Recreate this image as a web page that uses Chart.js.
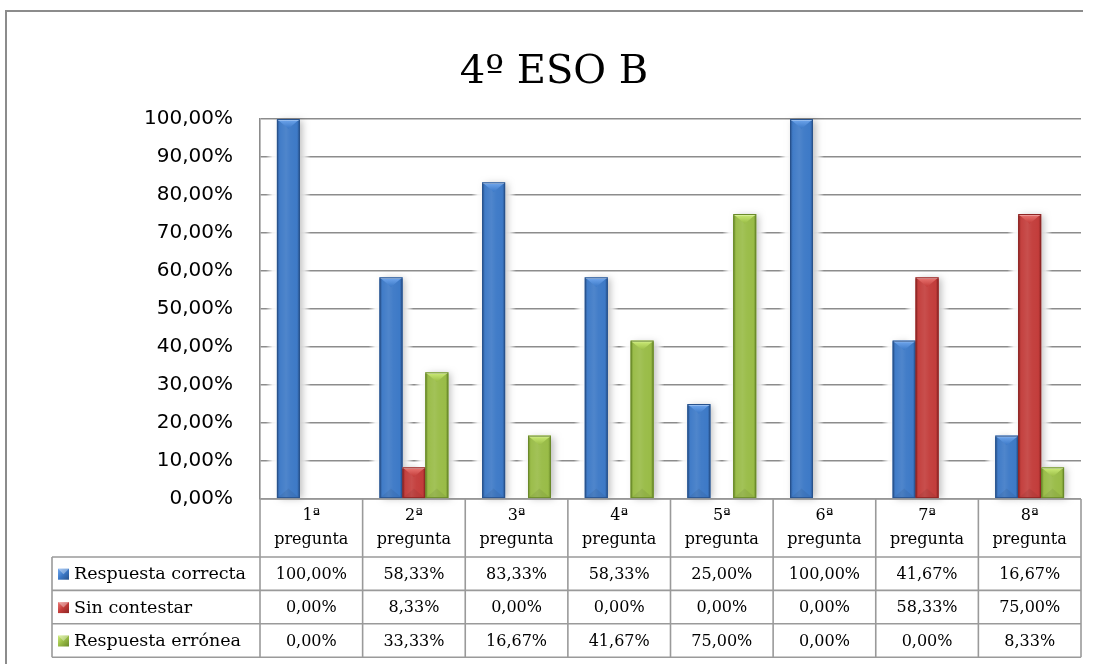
<!DOCTYPE html>
<html>
<head>
<meta charset="utf-8">
<script src="https://cdn.jsdelivr.net/npm/chart.js@4.4.0/dist/chart.umd.min.js"></script>
<style>
  html, body { margin: 0; padding: 0; background: #ffffff; }
  #wrap { width: 1097px; height: 664px; position: relative; }
</style>
</head>
<body>
<div id="wrap"><canvas id="c" width="1097" height="664"></canvas></div>
<script>
// Results per question, in percent
const chartTitle = '4º ESO B';
const categories = ['1ª pregunta', '2ª pregunta', '3ª pregunta', '4ª pregunta',
                    '5ª pregunta', '6ª pregunta', '7ª pregunta', '8ª pregunta'];
const seriesNames = ['Respuesta correcta', 'Sin contestar', 'Respuesta errónea'];
const respuestaCorrecta = [100, 58.33, 83.33, 58.33, 25, 100, 41.67, 16.67];
const sinContestar      = [0, 8.33, 0, 0, 0, 0, 58.33, 75];
const respuestaErronea  = [0, 33.33, 16.67, 41.67, 75, 0, 0, 8.33];

// Shading for each series: dark edge, body, light highlight
const palette = [
  { dark: '#28528c', mid: '#3b78c6', light: '#74aaf0' },
  { dark: '#8e2524', mid: '#c23b39', light: '#ec7a76' },
  { dark: '#6a8a2a', mid: '#98bb45', light: '#cfee7a' }
];

const fmtPct = v => v.toFixed(2).replace('.', ',') + '%';

const serifFont = '"DejaVu Serif", Georgia, serif';
const sansFont = '"DejaVu Sans", Verdana, sans-serif';
const lineGray = '#9a9a9a';

// Outer frame and title
const framePlugin = {
  id: 'frame',
  beforeDraw(chart) {
    const ctx = chart.ctx;
    ctx.save();
    ctx.fillStyle = '#ffffff';
    ctx.fillRect(0, 0, chart.width, chart.height);
    ctx.strokeStyle = '#8c8c8c';
    ctx.lineWidth = 2;
    ctx.beginPath();
    ctx.moveTo(6, chart.height);
    ctx.lineTo(6, 11);
    ctx.lineTo(chart.chartArea.right + 2, 11);
    ctx.stroke();
    ctx.fillStyle = '#000000';
    ctx.font = '40px ' + serifFont;
    ctx.textAlign = 'center';
    ctx.textBaseline = 'alphabetic';
    ctx.fillText(chartTitle, 554, 83);
    ctx.restore();
  }
};

function barGeom(el) {
  const p = el.getProps(['x', 'y', 'base', 'width'], true);
  return { x0: p.x - p.width / 2, x1: p.x + p.width / 2, top: Math.min(p.y, p.base), bottom: Math.max(p.y, p.base), w: p.width };
}

// Soft halo behind the bars, then bevelled shading on top of them
const bevelPlugin = {
  id: 'bevel',
  beforeDatasetsDraw(chart) {
    const ctx = chart.ctx;
    ctx.save();
    chart.data.datasets.forEach((ds, di) => {
      chart.getDatasetMeta(di).data.forEach((el, i) => {
        if (!ds.data[i]) return;
        const g = barGeom(el);
        const pad = 11;
        const halo = ctx.createLinearGradient(g.x0 - pad, 0, g.x1 + pad, 0);
        const f = pad / (g.w + 2 * pad);
        halo.addColorStop(0, 'rgba(255,255,255,0)');
        halo.addColorStop(f * 0.6, 'rgba(255,255,255,0.9)');
        halo.addColorStop(f, 'rgba(255,255,255,1)');
        halo.addColorStop(1 - f, 'rgba(255,255,255,1)');
        halo.addColorStop(1 - f * 0.6, 'rgba(255,255,255,0.9)');
        halo.addColorStop(1, 'rgba(255,255,255,0)');
        ctx.fillStyle = halo;
        ctx.fillRect(g.x0 - pad, g.top + 2, g.w + 2 * pad, g.bottom - g.top - 3);
        ctx.shadowColor = 'rgba(0,0,0,0.25)';
        ctx.shadowBlur = 7;
        ctx.shadowOffsetX = 3;
        ctx.shadowOffsetY = 1;
        ctx.fillStyle = '#ffffff';
        ctx.fillRect(g.x0, g.top, g.w, g.bottom - g.top);
        ctx.shadowColor = 'transparent';
      });
    });
    ctx.restore();
  },
  afterDatasetsDraw(chart) {
    const ctx = chart.ctx;
    ctx.save();
    chart.data.datasets.forEach((ds, di) => {
      const c = palette[di];
      chart.getDatasetMeta(di).data.forEach((el, i) => {
        if (!ds.data[i]) return;
        const g = barGeom(el);
        const h = g.bottom - g.top;
        // body: darker edges, lighter centre
        const grad = ctx.createLinearGradient(g.x0, 0, g.x1, 0);
        grad.addColorStop(0, c.dark);
        grad.addColorStop(0.12, c.mid);
        grad.addColorStop(0.88, c.mid);
        grad.addColorStop(1, c.dark);
        ctx.fillStyle = grad;
        ctx.fillRect(g.x0, g.top, g.w, h);
        // lighter sheen down the middle
        const sheen = ctx.createLinearGradient(g.x0, 0, g.x1, 0);
        sheen.addColorStop(0, 'rgba(255,255,255,0)');
        sheen.addColorStop(0.4, 'rgba(255,255,255,0.10)');
        sheen.addColorStop(0.6, 'rgba(255,255,255,0.04)');
        sheen.addColorStop(1, 'rgba(255,255,255,0)');
        ctx.fillStyle = sheen;
        ctx.fillRect(g.x0, g.top, g.w, h);
        // top bevel: light band with a downward wedge
        const bh = Math.min(g.w * 0.42, h / 2);
        const tg = ctx.createLinearGradient(0, g.top, 0, g.top + bh);
        tg.addColorStop(0, c.light);
        tg.addColorStop(1, c.mid);
        ctx.fillStyle = tg;
        ctx.beginPath();
        ctx.moveTo(g.x0, g.top);
        ctx.lineTo(g.x1, g.top);
        ctx.lineTo(g.x1 - g.w / 2, g.top + bh);
        ctx.closePath();
        ctx.fill();
        ctx.fillStyle = 'rgba(255,255,255,0.55)';
        ctx.fillRect(g.x0, g.top, g.w, 1.5);
        // bottom bevel: faint upward wedge
        ctx.fillStyle = 'rgba(0,0,0,0.06)';
        ctx.beginPath();
        ctx.moveTo(g.x0, g.bottom);
        ctx.lineTo(g.x1, g.bottom);
        ctx.lineTo(g.x1 - g.w / 2, g.bottom - bh);
        ctx.closePath();
        ctx.fill();
        // thin dark outline on the sides
        ctx.strokeStyle = c.dark;
        ctx.lineWidth = 1;
        ctx.strokeRect(g.x0 + 0.5, g.top + 0.5, g.w - 1, h - 1);
      });
    });
    ctx.restore();
  }
};

// Data table under the plot, with legend keys in the first column
const tablePlugin = {
  id: 'dataTable',
  afterDraw(chart) {
    const ctx = chart.ctx;
    const xs = chart.scales.x;
    const area = chart.chartArea;
    const n = categories.length;
    const colW = (xs.right - xs.left) / n;
    const top = area.bottom;
    const headH = 58;
    const rowH = 33.4;
    const tableLeft = 52;
    const seriesData = chart.data.datasets.map(d => d.data);
    ctx.save();
    ctx.strokeStyle = lineGray;
    ctx.lineWidth = 1.6;
    // column verticals
    for (let i = 0; i <= n; i++) {
      const x = xs.left + i * colW;
      ctx.beginPath();
      ctx.moveTo(x, top);
      ctx.lineTo(x, top + headH + rowH * seriesData.length);
      ctx.stroke();
    }
    // left edge of the legend column
    ctx.beginPath();
    ctx.moveTo(tableLeft, top + headH);
    ctx.lineTo(tableLeft, top + headH + rowH * seriesData.length);
    ctx.stroke();
    // horizontals
    ctx.beginPath();
    ctx.moveTo(xs.left, top);
    ctx.lineTo(xs.right, top);
    ctx.stroke();
    for (let r = 0; r <= seriesData.length; r++) {
      const y = top + headH + r * rowH;
      ctx.beginPath();
      ctx.moveTo(tableLeft, y);
      ctx.lineTo(xs.right, y);
      ctx.stroke();
    }
    // header text
    ctx.fillStyle = '#000000';
    ctx.font = '16px ' + serifFont;
    ctx.textAlign = 'center';
    ctx.textBaseline = 'middle';
    categories.forEach((cat, i) => {
      const cx = xs.getPixelForValue(i);
      const parts = cat.split(' ');
      ctx.fillText(parts[0], cx, top + 17);
      ctx.fillText(parts.slice(1).join(' '), cx, top + 41);
    });
    // value rows
    seriesData.forEach((vals, r) => {
      const cy = top + headH + r * rowH + rowH / 2 + 1;
      ctx.font = '16px ' + serifFont;
      vals.forEach((v, i) => {
        ctx.fillText(fmtPct(v), xs.getPixelForValue(i), cy);
      });
      // legend key
      const c = palette[r];
      const kx = 58, ky = cy - 6, ks = 11;
      const kg = ctx.createLinearGradient(kx, ky, kx + ks, ky + ks);
      kg.addColorStop(0, c.light);
      kg.addColorStop(0.5, c.mid);
      kg.addColorStop(1, c.dark);
      ctx.fillStyle = kg;
      ctx.fillRect(kx, ky, ks, ks);
      ctx.fillStyle = 'rgba(255,255,255,0.35)';
      ctx.beginPath();
      ctx.moveTo(kx, ky); ctx.lineTo(kx + ks, ky); ctx.lineTo(kx + ks / 2, ky + ks / 2); ctx.closePath();
      ctx.fill();
      ctx.fillStyle = '#000000';
      ctx.textAlign = 'left';
      ctx.font = '17.5px ' + serifFont;
      ctx.fillText(seriesNames[r], 74, cy);
      ctx.textAlign = 'center';
    });
    ctx.restore();
  }
};

new Chart(document.getElementById('c'), {
  type: 'bar',
  data: {
    labels: categories,
    datasets: [
      { label: seriesNames[0], data: respuestaCorrecta, backgroundColor: palette[0].mid },
      { label: seriesNames[1], data: sinContestar, backgroundColor: palette[1].mid },
      { label: seriesNames[2], data: respuestaErronea, backgroundColor: palette[2].mid }
    ]
  },
  options: {
    responsive: false,
    animation: false,
    devicePixelRatio: 1,
    layout: { padding: { left: 10, right: 16, top: 119, bottom: 165 } },
    datasets: { bar: { categoryPercentage: 0.67, barPercentage: 1.0 } },
    plugins: { legend: { display: false }, title: { display: false }, tooltip: { enabled: false } },
    scales: {
      x: { display: false, grid: { display: false } },
      y: {
        min: 0, max: 100,
        afterFit(scale) { scale.width = 250; },
        ticks: {
          stepSize: 10,
          padding: 27,
          color: '#000000',
          font: { family: sansFont, size: 20 },
          callback: v => fmtPct(v)
        },
        grid: { color: '#8c8c8c', lineWidth: 1.6, drawTicks: false },
        border: { display: true, color: '#8c8c8c', width: 1.6 }
      }
    }
  },
  plugins: [framePlugin, bevelPlugin, tablePlugin]
});
</script>
</body>
</html>
